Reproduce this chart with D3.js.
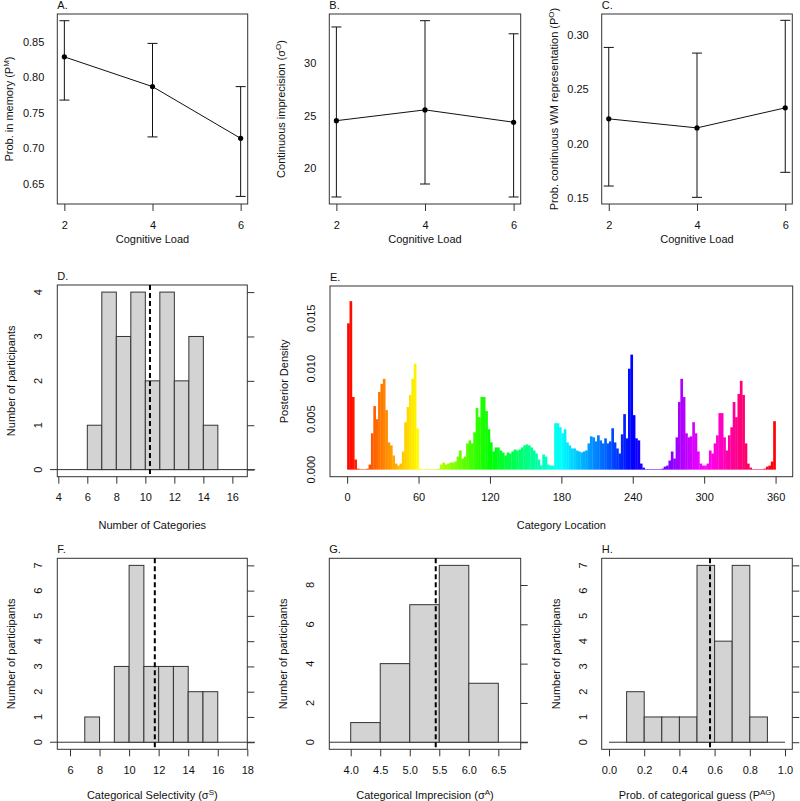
<!DOCTYPE html>
<html><head><meta charset="utf-8">
<script src="https://cdn.jsdelivr.net/npm/d3@7"></script>
<style>
body{margin:0;background:#fff}
text{font-family:"Liberation Sans",Arial,Helvetica,sans-serif;font-size:11px;fill:#111}
</style>
</head><body>
<svg id="c" width="800" height="801"></svg>
<script>
// ---------- DATA ----------
const loads = [2, 4, 6];
// Panel A: probability in memory
const pmMean = [0.829, 0.787, 0.714];
const pmLow  = [0.768, 0.716, 0.632];
const pmHigh = [0.880, 0.848, 0.787];
// Panel B: continuous imprecision
const soMean = [24.52, 25.55, 24.37];
const soLow  = [17.23, 18.47, 17.23];
const soHigh = [33.47, 34.07, 32.82];
// Panel C: prob. continuous WM representation
const poMean = [0.2227, 0.2144, 0.2328];
const poLow  = [0.1610, 0.1506, 0.1736];
const poHigh = [0.2883, 0.2831, 0.3132];

// Panel D: number of categories histogram
const dBinStart = [6, 7, 8, 9, 10, 11, 12, 13, 14];
const dCounts   = [1, 4, 3, 4, 2, 4, 2, 3, 1];
const dMean = 10.32;
const dXTicks = [4, 6, 8, 10, 12, 14, 16];
const dYTicks = [0, 1, 2, 3, 4];

// Panel E: posterior density of category locations (2-degree bins from 0 to 360)
const eBinWidth = 2;
const eDensity = [
 0.0145,0.0167,0.0072,0.0010,0.0001,0.00005,0.00005,0.00005,0.0001,0.0005,
 0.0036,0.0063,0.0050,0.0077,0.0085,0.0090,0.0059,0.0027,0.0024,0.0014,
 0.0006,0.0004,0.0006,0.0018,0.0047,0.0062,0.0074,0.0090,0.0105,0.0041,
 0.0001,0.00005,0.00005,0.00005,0.00005,0.00005,0.00005,0.00005,0.0001,0.0005,
 0.0007,0.0005,0.0006,0.0007,0.0007,0.0008,0.0013,0.0019,0.0011,0.0013,
 0.0026,0.0029,0.0026,0.0037,0.0061,0.0052,0.0072,0.0072,0.0058,0.0040,
 0.0027,0.0018,0.0022,0.0022,0.0019,0.0017,0.0014,0.0017,0.0016,0.0018,
 0.0020,0.0019,0.0020,0.0022,0.0024,0.0025,0.0024,0.0022,0.0019,0.0016,
 0.0010,0.0004,0.0015,0.0013,0.0005,0.0004,0.0004,0.0046,0.0046,0.0042,
 0.0036,0.0040,0.0027,0.0024,0.0021,0.0021,0.0019,0.0018,0.0017,0.0018,
 0.0019,0.0026,0.0033,0.0032,0.0028,0.0034,0.0029,0.0026,0.0031,0.0026,
 0.0028,0.0041,0.0027,0.0021,0.0016,0.0035,0.0055,0.0031,0.0100,0.0114,
 0.0054,0.0031,0.0029,0.0006,0.0002,0.00005,0.00005,0.00005,0.00005,0.00005,
 0.00005,0.00005,0.0001,0.0003,0.0004,0.0009,0.0018,0.0011,0.0032,0.0067,
 0.0090,0.0072,0.0036,0.0032,0.0033,0.0047,0.0036,0.0018,0.0006,0.0004,
 0.0004,0.0006,0.0019,0.0016,0.0026,0.0034,0.0056,0.0056,0.0032,0.0019,
 0.0034,0.0042,0.0067,0.0052,0.0075,0.0088,0.0074,0.0026,0.0006,0.0002,
 0.00005,0.00005,0.00005,0.00005,0.00005,0.0001,0.0003,0.0004,0.0008,0.0048
];
const eXTicks = [0, 60, 120, 180, 240, 300, 360];
const eYTicks = [0, 0.005, 0.010, 0.015];

// Panel F: categorical selectivity
const fBinStart = [7, 8, 9, 10, 11, 12, 13, 14, 15];
const fCounts   = [1, 0, 3, 7, 3, 3, 3, 2, 2];
const fMean = 11.74;
const fXTicks = [6, 8, 10, 12, 14, 16, 18];
const fYTicks = [0, 1, 2, 3, 4, 5, 6, 7];

// Panel G: categorical imprecision
const gBinStart = [4.0, 4.5, 5.0, 5.5, 6.0];
const gCounts   = [1, 4, 7, 9, 3];
const gMean = 5.44;
const gXTicks = [4.0, 4.5, 5.0, 5.5, 6.0, 6.5];
const gYTicks = [0, 2, 4, 6, 8];

// Panel H: prob. of categorical guess
const hBinStart = [0.1, 0.2, 0.3, 0.4, 0.5, 0.6, 0.7, 0.8];
const hCounts   = [2, 1, 1, 1, 7, 4, 7, 1];
const hMean = 0.574;
const hXTicks = [0.0, 0.2, 0.4, 0.6, 0.8, 1.0];
const hYTicks = [0, 1, 2, 3, 4, 5, 6, 7];

// ---------- DRAWING ----------
const svg = d3.select("#c");
const FRAME = "#333";

function panel(o) {
  const g = svg.append("g");
  const x = d3.scaleLinear().domain(o.xd).range([o.l, o.r]);
  const y = d3.scaleLinear().domain(o.yd).range([o.b, o.t]);
  // frame
  g.append("rect").attr("x", o.l).attr("y", o.t).attr("width", o.r - o.l).attr("height", o.b - o.t)
    .attr("fill", "none").attr("stroke", FRAME).attr("stroke-width", 1);
  // panel label
  g.append("text").attr("x", o.l).attr("y", o.t - 5).text(o.label);
  // x axis
  const ax = g.append("g").attr("transform", `translate(0,${o.b})`)
    .call(d3.axisBottom(x).tickValues(o.xt).tickSize(7).tickPadding(10).tickFormat(o.xf || (d => d)));
  ax.select(".domain").remove();
  ax.selectAll("line").attr("stroke", FRAME);
  ax.selectAll("text").style("font-size", "11px").attr("fill", "#111").style("font-family", "Liberation Sans, Arial, sans-serif");
  // x title
  const xt = g.append("text").attr("x", (o.l + o.r) / 2).attr("y", o.xtY).attr("text-anchor", "middle");
  addRich(xt, o.xTitle);
  // y axis
  if (o.yRot) {
    o.yt.forEach(t => {
      g.append("text").attr("transform", `translate(${o.l - 15},${y(t)}) rotate(-90)`)
        .attr("text-anchor", "middle").text(o.yf ? o.yf(t) : t);
    });
  } else {
    const ay = g.append("g").attr("transform", `translate(${o.l},0)`)
      .call(d3.axisLeft(y).tickValues(o.yt).tickSize(0).tickPadding(13).tickFormat(o.yf || (d => d)));
    ay.select(".domain").remove();
    ay.selectAll("text").style("font-size", "11px").attr("fill", "#111").style("font-family", "Liberation Sans, Arial, sans-serif");
  }
  if (o.rightTicks) {
    g.append("g").attr("transform", `translate(${o.r},0)`)
      .call(d3.axisRight(y).tickValues(o.yt).tickSize(7).tickFormat(""))
      .call(s => { s.select(".domain").remove(); s.selectAll("line").attr("stroke", FRAME); });
  }
  const yt = g.append("text").attr("transform", `translate(${o.l - o.ytOff},${(o.t + o.b) / 2}) rotate(-90)`)
    .attr("text-anchor", "middle");
  addRich(yt, o.yTitle);
  return { g, x, y };
}

function addRich(t, parts) {
  parts.forEach(p => {
    if (typeof p === "string") t.append("tspan").text(p);
    else t.append("tspan").attr("baseline-shift", "super").style("font-size", "8px").text(p.sup);
  });
}

function pointPanel(o, mean, lo, hi) {
  const p = panel(o);
  const line = d3.line().x((d, i) => p.x(loads[i])).y(d => p.y(d));
  p.g.append("path").attr("d", line(mean)).attr("fill", "none").attr("stroke", "#111").attr("stroke-width", 1);
  loads.forEach((L, i) => {
    const cx = p.x(L);
    p.g.append("line").attr("x1", cx).attr("x2", cx).attr("y1", p.y(lo[i])).attr("y2", p.y(hi[i])).attr("stroke", "#111");
    [lo[i], hi[i]].forEach(v => p.g.append("line").attr("x1", cx - 5).attr("x2", cx + 5)
      .attr("y1", p.y(v)).attr("y2", p.y(v)).attr("stroke", "#111"));
    p.g.append("circle").attr("cx", cx).attr("cy", p.y(mean[i])).attr("r", 2.6).attr("fill", "#000");
  });
}

function histPanel(o, starts, counts, width, mean, zeroFrom, zeroTo) {
  const p = panel(o);
  p.g.append("line").attr("x1", zeroFrom).attr("x2", zeroTo).attr("y1", p.y(0)).attr("y2", p.y(0))
    .attr("stroke", FRAME).attr("stroke-width", 1);
  starts.forEach((s, i) => {
    if (counts[i] <= 0) return;
    p.g.append("rect").attr("x", p.x(s)).attr("width", p.x(s + width) - p.x(s))
      .attr("y", p.y(counts[i])).attr("height", p.y(0) - p.y(counts[i]))
      .attr("fill", "#d3d3d3").attr("stroke", FRAME).attr("stroke-width", 1);
  });
  p.g.append("line").attr("x1", p.x(mean)).attr("x2", p.x(mean)).attr("y1", o.t).attr("y2", o.b)
    .attr("stroke", "#000").attr("stroke-width", 2).attr("stroke-dasharray", "5,3");
}

// Row 1
const rowA = { t: 14, b: 204, xtY: 242.5, xt: loads, xTitle: ["Cognitive Load"], ytOff: 44 };
pointPanel(Object.assign({}, rowA, { l: 57.3, r: 247.7, xd: [1.84, 6.16], yd: [0.6213, 0.8895], label: "A.",
  yt: [0.65, 0.70, 0.75, 0.80, 0.85], yf: d3.format(".2f"), yTitle: ["Prob. in memory (P", { sup: "M" }, ")"] }),
  pmMean, pmLow, pmHigh);
pointPanel(Object.assign({}, rowA, { l: 329.3, r: 520.7, xd: [1.84, 6.16], yd: [16.56, 34.71], label: "B.",
  yt: [20, 25, 30], yTitle: ["Continuous imprecision (σ", { sup: "O" }, ")"] }),
  soMean, soLow, soHigh);
pointPanel(Object.assign({}, rowA, { l: 601.7, r: 792.3, xd: [1.84, 6.16], yd: [0.1445, 0.319], label: "C.",
  yt: [0.15, 0.20, 0.25, 0.30], yf: d3.format(".2f"), yTitle: ["Prob. continuous WM representation (P", { sup: "O" }, ")"] }),
  poMean, poLow, poHigh);

// Row 2
histPanel({ l: 57.3, r: 247.3, t: 285, b: 476.7, xd: [3.931, 17.03], yd: [-0.16, 4.16], label: "D.",
  xt: dXTicks, xtY: 529, xTitle: ["Number of Categories"], yt: dYTicks, yRot: true, rightTicks: true,
  ytOff: 42, yTitle: ["Number of participants"] }, dBinStart, dCounts, 1, dMean, 50, 255);

(function () {
  const o = { l: 330, r: 792.7, t: 286, b: 476.7, xd: [-14.4, 374.4], yd: [-0.0007, 0.0182], label: "E.",
    xt: eXTicks, xtY: 529, xTitle: ["Category Location"], yt: eYTicks, yRot: true, yf: d3.format(".3f"),
    ytOff: 42, yTitle: ["Posterior Density"] };
  const p = panel(o);
  eDensity.forEach((v, i) => {
    const s = i * eBinWidth;
    const x0 = p.x(s), x1 = p.x(s + eBinWidth);
    p.g.append("rect").attr("x", x0).attr("width", x1 - x0 + 0.3)
      .attr("y", p.y(v)).attr("height", p.y(0) - p.y(v))
      .attr("fill", d3.hsl(s + eBinWidth / 2, 1, 0.5));
  });
})();

// Row 3
const rowF = { t: 558.3, b: 749.3, xtY: 799, yRot: true, rightTicks: true, ytOff: 42, yTitle: ["Number of participants"] };
histPanel(Object.assign({}, rowF, { l: 57.3, r: 247.3, xd: [5.14, 18.0], yd: [-0.28, 7.28], label: "F.",
  xt: fXTicks, xTitle: ["Categorical Selectivity (σ", { sup: "S" }, ")"], yt: fYTicks }),
  fBinStart, fCounts, 1, fMean, 50, 255);
histPanel(Object.assign({}, rowF, { l: 329.3, r: 520.7, xd: [3.6375, 6.879], yd: [-0.36, 9.36], label: "G.",
  xt: gXTicks, xf: d3.format(".1f"), xTitle: ["Categorical Imprecision (σ", { sup: "A" }, ")"], yt: gYTicks }),
  gBinStart, gCounts, 0.5, gMean, 329.3, 528);
histPanel(Object.assign({}, rowF, { l: 601.7, r: 792.3, xd: [-0.0415, 1.0415], yd: [-0.28, 7.28], label: "H.",
  xt: hXTicks, xf: d3.format(".1f"), xTitle: ["Prob. of categorical guess (P", { sup: "AG" }, ")"], yt: hYTicks }),
  hBinStart, hCounts, 0.1, hMean, 609, 785);
</script>
</body></html>
